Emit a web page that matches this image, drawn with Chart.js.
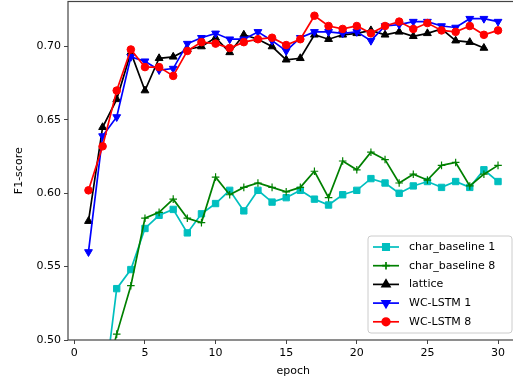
<!DOCTYPE html>
<html>
<head>
<meta charset="utf-8">
<script src="https://cdn.jsdelivr.net/npm/chart.js@4.4.1/dist/chart.umd.min.js"></script>
<style>
  html, body { margin: 0; padding: 0; background: #fff; overflow: hidden; }
  canvas { display: block; margin-top: -4px; }
</style>
</head>
<body>
<canvas id="f1Chart" width="524" height="387"></canvas>
<script>
// epochs and F1 per model
var epochs = [1,2,3,4,5,6,7,8,9,10,11,12,13,14,15,16,17,18,19,20,21,22,23,24,25,26,27,28,29,30];
var charBaseline1 = [0.400,0.458,0.535,0.548,0.576,0.585,0.589,0.573,0.586,0.593,0.602,0.588,0.602,0.594,0.597,0.602,0.596,0.592,0.599,0.602,0.610,0.607,0.600,0.605,0.608,0.604,0.608,0.604,0.616,0.608];
var charBaseline8 = [0.400,0.467,0.504,0.537,0.583,0.587,0.596,0.583,0.580,0.611,0.599,0.604,0.607,0.604,0.601,0.604,0.615,0.597,0.622,0.616,0.628,0.623,0.607,0.613,0.609,0.619,0.621,0.605,0.613,0.619];
var lattice = [0.581,0.645,0.664,0.696,0.670,0.692,0.693,0.698,0.700,0.706,0.696,0.708,0.705,0.700,0.691,0.692,0.708,0.705,0.708,0.709,0.711,0.708,0.710,0.707,0.709,0.712,0.704,0.703,0.699,null];
var wcLstm1 = [0.560,0.639,0.652,0.693,0.690,0.684,0.685,0.702,0.706,0.709,0.705,0.705,0.710,0.704,0.697,0.706,0.710,0.710,0.709,0.710,0.704,0.714,0.715,0.717,0.717,0.714,0.713,0.719,0.719,0.717];
var wcLstm8 = [0.602,0.632,0.670,0.698,0.686,0.686,0.680,0.697,0.703,0.702,0.699,0.703,0.705,0.706,0.701,0.705,0.721,0.714,0.712,0.714,0.709,0.714,0.717,0.712,0.716,0.711,0.710,0.714,0.708,0.711];
var xTicks = [0,5,10,15,20,25,30];
var yTicks = [0.50,0.55,0.60,0.65,0.70];

Chart.defaults.font.family = "'DejaVu Sans', sans-serif";
Chart.defaults.font.size = 11;
Chart.defaults.color = '#000';

function pts(arr) {
  return epochs.map(function (e, i) { return { x: e, y: arr[i] }; });
}

function series(label, arr, color, style, radius, order, rot) {
  return {
    label: label,
    data: pts(arr),
    borderColor: color,
    backgroundColor: color,
    borderWidth: 1.7,
    pointStyle: style,
    pointRadius: radius,
    pointRotation: rot || 0,
    pointBackgroundColor: color,
    pointBorderColor: color,
    pointBorderWidth: style === 'cross' ? 1.2 : 1,
    tension: 0,
    order: order
  };
}

// matplotlib style box around the axes
var frame = {
  id: 'frame',
  afterDatasetsDraw: function (chart) {
    var a = chart.chartArea, ctx = chart.ctx;
    ctx.save();
    ctx.strokeStyle = '#444';
    ctx.lineWidth = 1.2;
    ctx.strokeRect(a.left, a.top, a.right - a.left, a.bottom - a.top);
    ctx.restore();
  }
};

// legend box in the lower right (canvas is shifted up by 4px)
var legendBox = {
  id: 'legendBox',
  afterDraw: function (chart) {
    var ctx = chart.ctx;
    var x0 = 368, y0 = 240, w = 144, h = 97;
    ctx.save();
    ctx.beginPath();
    if (ctx.roundRect) ctx.roundRect(x0, y0, w, h, 3); else ctx.rect(x0, y0, w, h);
    ctx.fillStyle = 'rgba(255,255,255,0.8)';
    ctx.fill();
    ctx.strokeStyle = '#cccccc';
    ctx.lineWidth = 1;
    ctx.stroke();
    chart.data.datasets.forEach(function (ds, i) {
      var y = y0 + 11 + i * 18.7;
      ctx.strokeStyle = ds.borderColor;
      ctx.lineWidth = ds.borderWidth;
      ctx.beginPath();
      ctx.moveTo(x0 + 5, y);
      ctx.lineTo(x0 + 31, y);
      ctx.stroke();
      ctx.fillStyle = ds.pointBackgroundColor;
      Chart.helpers.drawPoint(ctx, {
        pointStyle: ds.pointStyle,
        radius: ds.pointRadius,
        rotation: ds.pointRotation,
        borderWidth: ds.pointBorderWidth
      }, x0 + 18, y);
      ctx.fillStyle = '#000';
      ctx.font = "11px 'DejaVu Sans', sans-serif";
      ctx.textBaseline = 'middle';
      ctx.textAlign = 'left';
      ctx.fillText(ds.label, x0 + 41, y);
    });
    ctx.restore();
  }
};

var ctx = document.getElementById('f1Chart');
var f1Chart = new Chart(ctx, {
  type: 'line',
  data: {
    datasets: [
      series('char_baseline 1', charBaseline1, '#00bfbf', 'rect', 4.5, 5),
      series('char_baseline 8', charBaseline8, '#008000', 'cross', 3.8, 4),
      series('lattice', lattice, '#000000', 'triangle', 4.5, 3),
      series('WC-LSTM 1', wcLstm1, '#0000ff', 'triangle', 4.5, 2, 180),
      series('WC-LSTM 8', wcLstm8, '#ff0000', 'circle', 3.8, 1)
    ]
  },
  plugins: [frame, legendBox],
  options: {
    responsive: false,
    animation: false,
    layout: { padding: 0 },
    plugins: { legend: { display: false }, tooltip: { enabled: false } },
    scales: {
      x: {
        type: 'linear',
        min: -0.45,
        max: 31.45,
        afterBuildTicks: function (s) { s.ticks = xTicks.map(function (v) { return { value: v }; }); },
        afterFit: function (s) { s.height = 43; s.paddingLeft = 0; s.paddingRight = 0; },
        ticks: { padding: 3, color: '#000' },
        grid: { drawOnChartArea: false, drawTicks: true, tickLength: 4, color: '#444', lineWidth: 1 },
        border: { display: false },
        title: { display: true, text: 'epoch', color: '#000', padding: { top: 0, bottom: 5 } }
      },
      y: {
        min: 0.5,
        max: 0.7307,
        afterBuildTicks: function (s) { s.ticks = yTicks.map(function (v) { return { value: v }; }); },
        afterFit: function (s) { s.width = 68; s.paddingTop = 0; s.paddingBottom = 0; },
        ticks: {
          padding: 3,
          color: '#000',
          callback: function (v) { return Number(v).toFixed(2); }
        },
        grid: { drawOnChartArea: false, drawTicks: true, tickLength: 4, color: '#444', lineWidth: 1 },
        border: { display: false },
        title: { display: true, text: 'F1-score', color: '#000', padding: { top: 13, bottom: 0 } }
      }
    }
  }
});
</script>
</body>
</html>
